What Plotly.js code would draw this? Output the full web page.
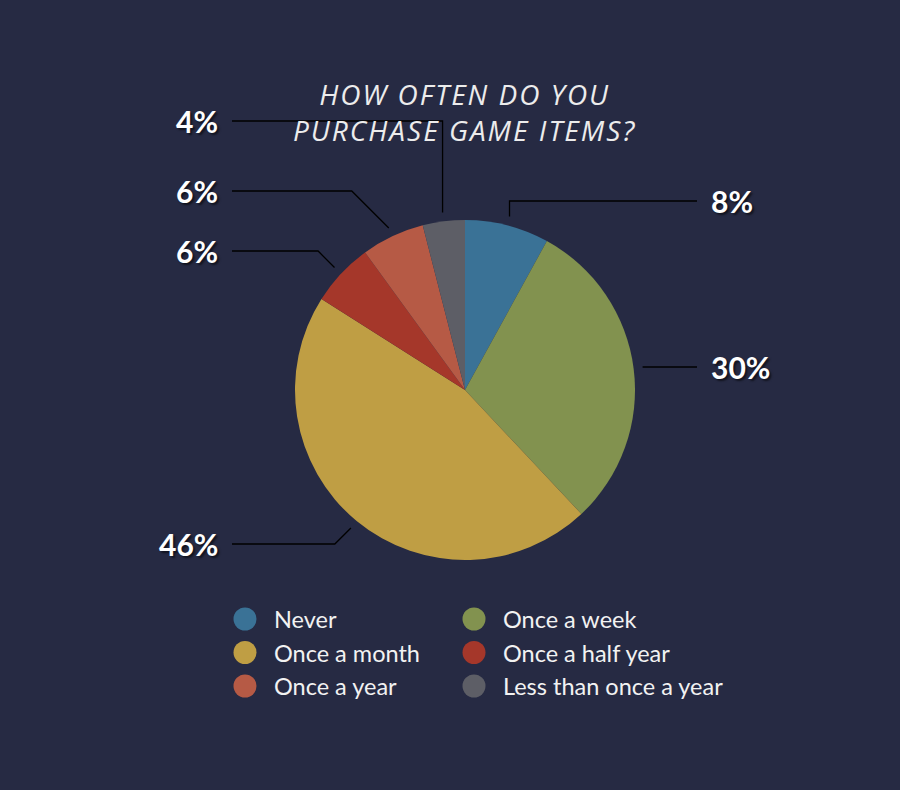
<!DOCTYPE html>
<html>
<head>
<meta charset="utf-8">
<script src="https://cdn.plot.ly/plotly-3.0.1.min.js"></script>
<style>
  html, body { margin: 0; padding: 0; background: #262a43; }
  #chart { width: 900px; height: 790px; }
  g.annotation[data-index="0"] text { letter-spacing: 2px; }
</style>
</head>
<body>
<div id="chart"></div>
<script>
// ---- data ----
const categories = ["Never", "Once a week", "Once a month", "Once a half year", "Once a year", "Less than once a year"];
const values = [8, 30, 46, 6, 6, 4];
const colors = ["#3a7296", "#82924f", "#bf9e44", "#a5372a", "#b65a45", "#5d5e66"];
const titleText = "HOW OFTEN DO YOU<br>PURCHASE GAME ITEMS?";

// ---- layout config (pixels) ----
const W = 900, H = 790;
const pie = { cx: 465, cy: 390, r: 170 };
const labelRowY = [201, 367, 544, 251, 191, 121]; // label rows per slice
const leftEndX = 232, rightEndX = 697, leaderGap = 9;
const legendCols = [{ dot: 245, text: 272 }, { dot: 474, text: 501 }];
const legendRows = [619, 652.5, 686];

const px = x => x / W;
const py = y => 1 - y / H;

const trace = {
  type: "pie",
  labels: categories,
  values: values,
  sort: false,
  direction: "clockwise",
  rotation: 0,
  textinfo: "none",
  hoverinfo: "label+percent",
  marker: { colors: colors, line: { width: 0 } },
  showlegend: false,
  domain: { x: [px(pie.cx - pie.r), px(pie.cx + pie.r)], y: [py(pie.cy + pie.r), py(pie.cy - pie.r)] }
};

const total = values.reduce((a, b) => a + b, 0);
const shapes = [];
const annotations = [];

// chart title (first annotation)
annotations.push({
  xref: "paper", yref: "paper",
  x: px(465), y: py(112),
  xanchor: "center", yanchor: "middle",
  text: titleText, showarrow: false,
  font: { family: "'Open Sans', Lato, sans-serif", size: 28, weight: 400, style: "italic", color: "#ececec" }
});

let cum = 0;
values.forEach((v, i) => {
  const mid = (cum + v / 2) / total * 2 * Math.PI;
  cum += v;
  const s = Math.sin(mid), c = Math.cos(mid);
  const R1 = pie.r + leaderGap;
  const sx = pie.cx + R1 * s, sy = pie.cy - R1 * c;
  const side = s >= 0 ? 1 : -1;
  const L = labelRowY[i];
  const endX = side > 0 ? rightEndX : leftEndX;
  let path;
  if (Math.abs(L - sy) < 3) {
    path = `M ${px(sx)},${py(L)} L ${px(endX)},${py(L)}`;
  } else {
    let ex;
    if (Math.abs(s) < 0.3) ex = sx;
    else ex = sx + side * Math.abs(L - sy);
    path = `M ${px(sx)},${py(sy)} L ${px(ex)},${py(L)} L ${px(endX)},${py(L)}`;
  }
  shapes.push({ type: "path", xref: "paper", yref: "paper", path: path, line: { color: "#000000", width: 1.3 } });
  annotations.push({
    xref: "paper", yref: "paper",
    x: px(endX + side * 12), y: py(L),
    xanchor: side > 0 ? "left" : "right", yanchor: "middle",
    text: v + "%", showarrow: false,
    font: { family: "Lato, 'Open Sans', sans-serif", size: 30, weight: 700, color: "#ffffff", shadow: "2px 2px 2px rgba(0,0,0,0.55)" }
  });
});

// legend built from categories/colors
categories.forEach((name, i) => {
  const col = legendCols[i % 2];
  const y = legendRows[Math.floor(i / 2)];
  shapes.push({
    type: "circle", xref: "paper", yref: "paper",
    xsizemode: "pixel", ysizemode: "pixel",
    xanchor: px(col.dot), yanchor: py(y),
    x0: -11.5, x1: 11.5, y0: -11.5, y1: 11.5,
    fillcolor: colors[i], line: { width: 0 }
  });
  annotations.push({
    xref: "paper", yref: "paper",
    x: px(col.text), y: py(y),
    xanchor: "left", yanchor: "middle",
    text: name, showarrow: false,
    font: { family: "Lato, 'Open Sans', sans-serif", size: 23.5, color: "#f2f2f2" }
  });
});

const layout = {
  width: W, height: H,
  paper_bgcolor: "#262a43",
  plot_bgcolor: "#262a43",
  margin: { l: 0, r: 0, t: 0, b: 0 },
  showlegend: false,
  shapes: shapes,
  annotations: annotations
};

Plotly.newPlot("chart", [trace], layout, { displayModeBar: false });
</script>
</body>
</html>
